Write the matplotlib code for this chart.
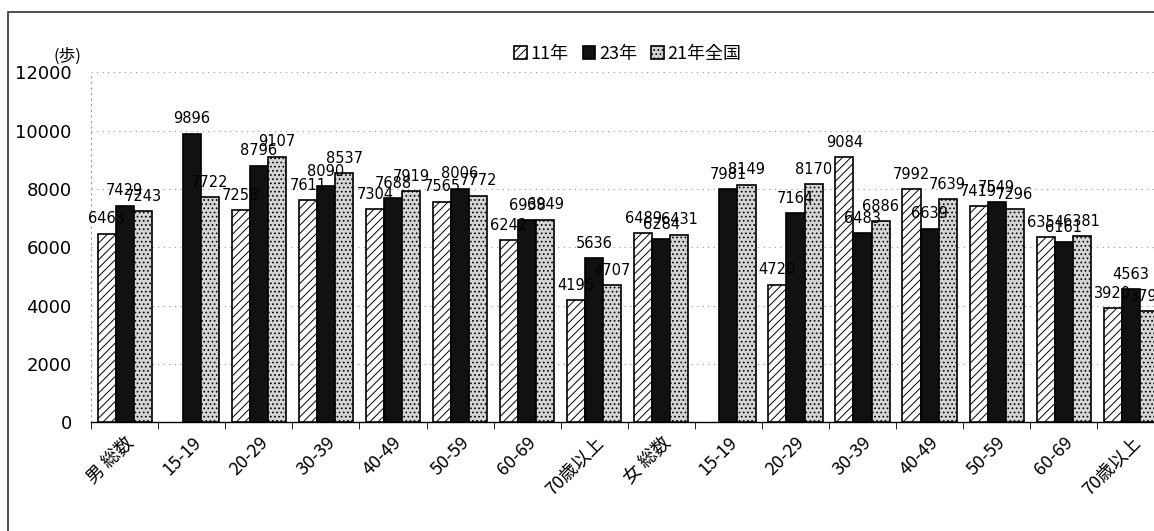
import numpy as np
import matplotlib
matplotlib.use("Agg")
import matplotlib.pyplot as plt
from matplotlib.patches import Rectangle

plt.rcParams['font.family'] = ['Noto Sans CJK JP', 'DejaVu Sans']
plt.rcParams['hatch.linewidth'] = 0.7

categories = ['男 総数', '15-19', '20-29', '30-39', '40-49', '50-59', '60-69', '70歳以上',
              '女 総数', '15-19', '20-29', '30-39', '40-49', '50-59', '60-69', '70歳以上']
steps_11 = [6463, np.nan, 7258, 7611, 7304, 7565, 6242, 4195,
            6489, np.nan, 4720, 9084, 7992, 7419, 6354, 3920]
steps_23 = [7429, 9896, 8796, 8090, 7688, 8006, 6938, 5636,
            6284, 7981, 7164, 6483, 6639, 7549, 6161, 4563]
steps_21_national = [7243, 7722, 9107, 8537, 7919, 7772, 6949, 4707,
                     6431, 8149, 8170, 6886, 7639, 7296, 6381, 3797]
series_names = ['11年', '23年', '21年全国']

fig = plt.figure(figsize=(11.54, 5.31), dpi=100)
ax = fig.add_axes([0.079, 0.205, 0.93, 0.659])

x = np.arange(len(categories))
w = 0.27
styles = [
    dict(facecolor='white', hatch='////', edgecolor='black'),
    dict(facecolor='#111111', edgecolor='black'),
    dict(facecolor='#d4d4d4', hatch='....', edgecolor='black'),
]
all_series = [steps_11, steps_23, steps_21_national]

for i, (vals, st, name) in enumerate(zip(all_series, styles, series_names)):
    vals = np.array(vals, dtype=float)
    pos = x + (i - 1) * w
    ax.bar(pos, vals, w, linewidth=1.2, label=name, zorder=3, **st)
    for p, v in zip(pos, vals):
        if np.isnan(v):
            continue
        ax.text(p, v + 250, f'{int(v)}', ha='center', va='bottom',
                fontsize=10.5, family='DejaVu Sans', zorder=4)

ax.set_xlim(-0.5, len(categories) - 0.5)
ax.set_ylim(0, 12000)
ax.set_yticks(range(0, 12001, 2000))
ax.tick_params(axis='y', length=0, labelsize=13, pad=14)
for lbl in ax.get_yticklabels():
    lbl.set_family('DejaVu Sans')

# category labels centred on groups, tick marks between groups
ax.set_xticks(x)
ax.set_xticklabels(categories, rotation=45, ha='right', rotation_mode='anchor', fontsize=13)
ax.tick_params(axis='x', length=0, pad=8)
ax.set_xticks(np.arange(len(categories) + 1) - 0.5, minor=True)
ax.tick_params(axis='x', which='minor', length=5, direction='out')

ax.grid(axis='y', linestyle=(0, (1, 4)), color='#999999', linewidth=0.8, zorder=0)
ax.spines['top'].set_visible(False)
ax.spines['right'].set_visible(False)
ax.spines['left'].set_linestyle((0, (1, 4)))
ax.spines['left'].set_color('#999999')
ax.spines['bottom'].set_linewidth(1.0)

ax.text(-0.035, 1.02, '(歩)', transform=ax.transAxes, fontsize=12, ha='left', va='bottom')

ax.legend(loc='upper center', bbox_to_anchor=(0.5, 1.125), ncol=3, frameon=False,
          fontsize=13, handlelength=0.7, handleheight=0.7, handletextpad=0.2,
          columnspacing=0.8)

# outer frame of the chart box
fig.patches.append(Rectangle((0.007, -0.1), 1.1, 1.077, transform=fig.transFigure,
                             fill=False, edgecolor='#333333', linewidth=1.2))

fig.savefig('out.png', dpi=100)
